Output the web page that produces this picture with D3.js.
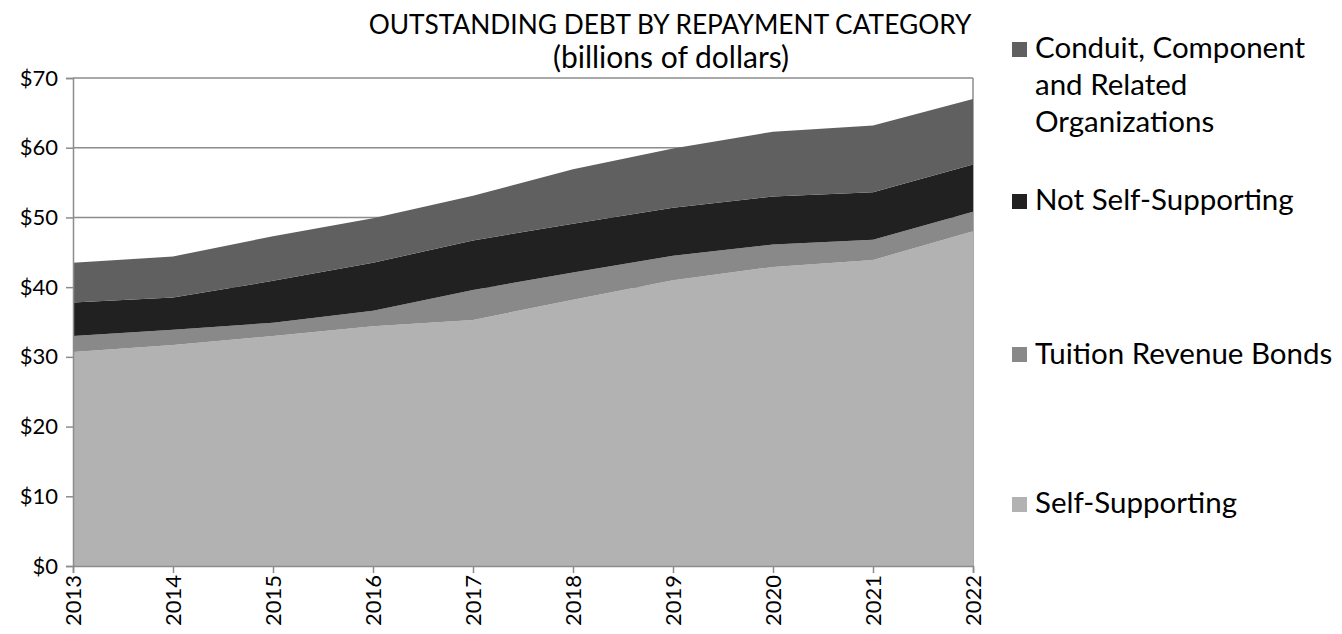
<!DOCTYPE html>
<html><head><meta charset="utf-8">
<script src="https://cdn.jsdelivr.net/npm/d3@7"></script>
<style>
html,body{margin:0;padding:0;background:#fff;}
svg{display:block;font-family:Lato,"Open Sans",sans-serif;}
</style></head>
<body>
<svg id="chart" width="1342" height="634"></svg>
<script>
const years = [2013,2014,2015,2016,2017,2018,2019,2020,2021,2022];
const selfSupporting = [30.7,31.7,33.0,34.4,35.3,38.2,41.0,42.9,43.9,48.0];
const tuitionRevenue = [2.3,2.2,1.9,2.2,4.3,3.9,3.5,3.2,2.9,2.8];
const notSelfSupporting = [4.8,4.6,6.0,6.9,7.1,7.0,6.9,6.9,6.8,6.8];
const conduit = [5.7,5.9,6.4,6.4,6.4,7.8,8.5,9.3,9.6,9.4];
const seriesNames = ["Self-Supporting","Tuition Revenue Bonds","Not Self-Supporting","Conduit, Component and Related Organizations"];
const seriesColors = ["#b2b2b2","#898989","#212121","#606060"];
const yTicks = [0,10,20,30,40,50,60,70];

const svg = d3.select("#chart");
const L=73,R=973,T=78,B=566;
const x = d3.scalePoint().domain(years).range([L,R]);
const y = d3.scaleLinear().domain([0,70]).range([B,T]);

const rows = years.map((yr,i)=>({year:yr, s0:selfSupporting[i], s1:tuitionRevenue[i], s2:notSelfSupporting[i], s3:conduit[i]}));
const stack = d3.stack().keys(["s0","s1","s2","s3"]);
const layers = stack(rows);
const area = d3.area().x(d=>x(d.data.year)).y0(d=>y(d[0])).y1(d=>y(d[1]));

// gridlines
svg.append("g").selectAll("line").data(yTicks.filter(v=>v>0)).join("line")
  .attr("x1",L).attr("x2",R).attr("y1",d=>y(d)).attr("y2",d=>y(d))
  .attr("stroke","#8c8c8c").attr("stroke-width",1.5);
// right border
svg.append("line").attr("x1",R).attr("x2",R).attr("y1",T).attr("y2",B).attr("stroke","#8c8c8c").attr("stroke-width",1.5);

svg.append("g").selectAll("path").data(layers).join("path")
  .attr("d",area).attr("fill",(d,i)=>seriesColors[i]);

// y axis
const yAxis = d3.axisLeft(y).tickValues(yTicks).tickFormat(d=>"$"+d).tickSize(7).tickPadding(8);
const gy = svg.append("g").attr("transform",`translate(${L},0)`).call(yAxis);
gy.select(".domain").attr("stroke","#8c8c8c").attr("stroke-width",1.5);
gy.selectAll(".tick line").attr("stroke","#8c8c8c").attr("stroke-width",1.5);
gy.selectAll("text").attr("font-size",22).attr("fill","#000").attr("font-family","Lato");

// x axis
const xAxis = d3.axisBottom(x).tickSize(7).tickPadding(6);
const gx = svg.append("g").attr("transform",`translate(0,${B})`).call(xAxis);
gx.select(".domain").attr("stroke","#8c8c8c").attr("stroke-width",1.5);
gx.selectAll(".tick line").attr("stroke","#8c8c8c").attr("stroke-width",1.5);
gx.selectAll("text").attr("font-size",22).attr("fill","#000").attr("font-family","Lato")
  .attr("transform","rotate(-90)").attr("text-anchor","end").attr("x",-9).attr("y",0).attr("dy","0.35em");

// title
svg.append("text").attr("x",670).attr("y",34).attr("text-anchor","middle").attr("font-size",26.3).text("OUTSTANDING DEBT BY REPAYMENT CATEGORY");
svg.append("text").attr("x",671).attr("y",68).attr("text-anchor","middle").attr("font-size",30).text("(billions of dollars)");

// legend
const legend = [
  {i:3, sq:42, lines:["Conduit, Component","and Related","Organizations"], base:58},
  {i:2, sq:194, lines:["Not Self-Supporting"], base:210},
  {i:1, sq:347, lines:["Tuition Revenue Bonds"], base:364},
  {i:0, sq:497, lines:["Self-Supporting"], base:513}
];
const lg = svg.append("g");
legend.forEach(l=>{
  lg.append("rect").attr("x",1012).attr("y",l.sq).attr("width",15).attr("height",15).attr("fill",seriesColors[l.i]);
  l.lines.forEach((t,k)=>{
    lg.append("text").attr("x",1035).attr("y",l.base+k*37).attr("font-size",29.5).text(t);
  });
});
</script>
</body></html>
